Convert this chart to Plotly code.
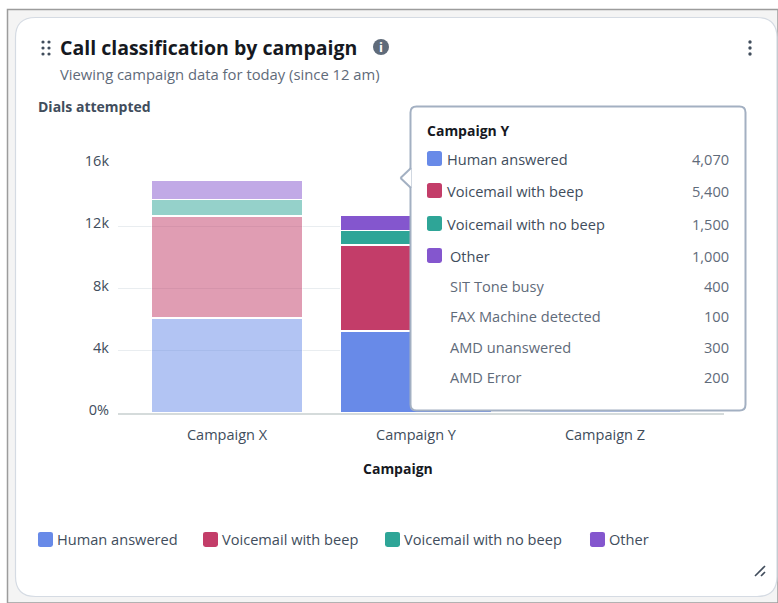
import plotly.graph_objects as go

W, H = 778, 603

campaigns = ["Campaign X", "Campaign Y", "Campaign Z"]
series_names = ["Human answered", "Voicemail with beep", "Voicemail with no beep", "Other"]
human_answered = [6110, 5280, 3000]
voicemail_beep = [6560, 5500, 2500]
voicemail_no_beep = [1060, 950, 800]
other = [1210, 1000, 700]
series_values = [human_answered, voicemail_beep, voicemail_no_beep, other]
series_colors = ["#688AE8", "#C33D69", "#2EA597", "#8456CE"]
point_opacity = [0.5, 1, 0.5]

y_ticks = [0, 4000, 8000, 12000, 16000]
y_tick_labels = ["0%", "4k", "8k", "12k", "16k"]

tooltip_title = "Campaign Y"
tooltip_main = [("Human answered", "4,070"), ("Voicemail with beep", "5,400"),
                ("Voicemail with no beep", "1,500"), ("Other", "1,000")]
tooltip_sub = [("SIT Tone busy", "400"), ("FAX Machine detected", "100"),
               ("AMD unanswered", "300"), ("AMD Error", "200")]

FONT = "Open Sans"
DARK = "#16191F"
MID = "#414D5C"
SOFT = "#5F6B7A"


def px(x):
    return x / W


def py(y):
    return 1 - y / H


def P(x, y):
    return f"{px(x):.5f},{py(y):.5f}"


def rr_path(x0, y0, x1, y1, r):
    return (f"M{P(x0 + r, y0)} L{P(x1 - r, y0)} Q{P(x1, y0)} {P(x1, y0 + r)} "
            f"L{P(x1, y1 - r)} Q{P(x1, y1)} {P(x1 - r, y1)} "
            f"L{P(x0 + r, y1)} Q{P(x0, y1)} {P(x0, y1 - r)} "
            f"L{P(x0, y0 + r)} Q{P(x0, y0)} {P(x0 + r, y0)} Z")


shapes = []
annotations = []


def box(x0, y0, x1, y1, r=0, fill="rgba(0,0,0,0)", line="rgba(0,0,0,0)", lw=0, layer="above"):
    shapes.append(dict(type="path", xref="paper", yref="paper", path=rr_path(x0, y0, x1, y1, r),
                       fillcolor=fill, line=dict(color=line, width=lw), layer=layer))


def dot(cx, cy, r, color, layer="above"):
    shapes.append(dict(type="circle", xref="paper", yref="paper",
                       x0=px(cx - r), x1=px(cx + r), y0=py(cy + r), y1=py(cy - r),
                       fillcolor=color, line=dict(width=0), layer=layer))


def seg(x0, y0, x1, y1, color, lw):
    shapes.append(dict(type="line", xref="paper", yref="paper", x0=px(x0), x1=px(x1), y0=py(y0), y1=py(y1),
                       line=dict(color=color, width=lw), layer="above"))


def text(x, y, s, size=14, color=MID, anchor="left", bold=False):
    annotations.append(dict(xref="paper", yref="paper", x=px(x), y=py(y), text=f"<b>{s}</b>" if bold else s,
                            showarrow=False, xanchor=anchor, yanchor="middle", align=anchor,
                            borderpad=0, borderwidth=0,
                            font=dict(family=FONT, size=size, color=color)))


# page frame and card
box(7.5, 9.5, 778, 603, 0, fill="#F4F4F4", line="#9C9C9C", lw=1.5, layer="below")
box(15.5, 17.5, 777, 596.5, 20, fill="#FFFFFF", line="#D5DBE3", lw=1.2, layer="below")

# header
for cx in (43, 49):
    for cy in (42, 48, 54):
        dot(cx, cy, 1.6, "#414D5C")
text(60, 48, "Call classification by campaign", size=19.5, color=DARK, bold=True)
text(60, 74, "Viewing campaign data for today (since 12 am)", size=14.8, color=SOFT)
dot(381, 47, 8, "#5F6B7A")
text(381, 47, "i", size=13, color="#FFFFFF", anchor="center", bold=True)
for cy in (42, 48, 54):
    dot(750, cy, 1.7, "#414D5C")
text(38, 107, "Dials attempted", size=14, color=MID, bold=True)
text(398, 468, "Campaign", size=14, color=DARK, anchor="center", bold=True)

# resize handle
seg(755, 576, 765, 566, "#414D5C", 1.6)
seg(761, 576, 765, 572, "#414D5C", 1.6)

# legend
legend_x = [38, 203, 385, 590]
for lx, name, col in zip(legend_x, series_names, series_colors):
    box(lx, 532, lx + 15, 547, 2.5, fill=col)
    text(lx + 19, 539, name, size=14.6, color=MID)

# tooltip
tx0, ty0, tx1, ty1 = 410.5, 106.5, 745.5, 410.5
box(tx0, ty0, tx1, ty1, 6, fill="#FFFFFF", line="#A3B0C2", lw=2)
shapes.append(dict(type="path", xref="paper", yref="paper",
                   path=f"M{P(411, 168)} L{P(400.5, 178)} L{P(411, 188)} Z",
                   fillcolor="#FFFFFF", line=dict(width=0), layer="above"))
seg(411, 168, 400.5, 178, "#A3B0C2", 2)
seg(400.5, 178, 411, 188, "#A3B0C2", 2)
text(427, 130, tooltip_title, size=14, color=DARK, bold=True)
main_y = [159, 191, 224, 256]
for (name, val), ry, col, tx in zip(tooltip_main, main_y, series_colors, [447, 447, 447, 450]):
    box(427, ry - 8, 442, ry + 7, 2.5, fill=col)
    text(tx, ry, name, size=14.6, color=MID)
    text(729, ry, val, size=14.6, color=SOFT, anchor="right")
sub_y = [286, 316, 347, 377]
for (name, val), ry in zip(tooltip_sub, sub_y):
    text(450, ry, name, size=14.6, color=SOFT)
    text(729, ry, val, size=14.6, color=SOFT, anchor="right")

fig = go.Figure()
for name, vals, col in zip(series_names, series_values, series_colors):
    fig.add_bar(x=campaigns, y=vals, name=name,
                marker=dict(color=col, opacity=point_opacity, line=dict(color="#FFFFFF", width=1.6)),
                showlegend=False, hoverinfo="skip")

fig.update_layout(
    width=W, height=H, autosize=False,
    margin=dict(l=0, r=0, t=0, b=0),
    paper_bgcolor="#FFFFFF", plot_bgcolor="rgba(0,0,0,0)",
    barmode="stack", bargap=0.2,
    font=dict(family=FONT, size=14, color=MID),
    shapes=shapes, annotations=annotations,
    xaxis=dict(domain=[px(118), px(724)], type="category", range=[-0.577, 2.63], automargin=False,
               showgrid=False, showline=True, linecolor="#D5DBDB", linewidth=2, zeroline=False,
               ticks="", ticklabelstandoff=8,
               tickfont=dict(family=FONT, size=14.5, color=MID)),
    yaxis=dict(domain=[py(413), py(164)], range=[0, 16000], tickmode="array", automargin=False,
               tickvals=y_ticks, ticktext=y_tick_labels, showline=False, zeroline=False,
               gridcolor="#E9EDF0", gridwidth=1, ticks="", ticklabelstandoff=8, ticklabelshift=-3,
               tickfont=dict(family=FONT, size=14.5, color=MID)),
)

fig.write_html("out.html", config=dict(displayModeBar=False),
               post_script="document.body.style.margin='0';document.body.style.overflow='hidden';")
